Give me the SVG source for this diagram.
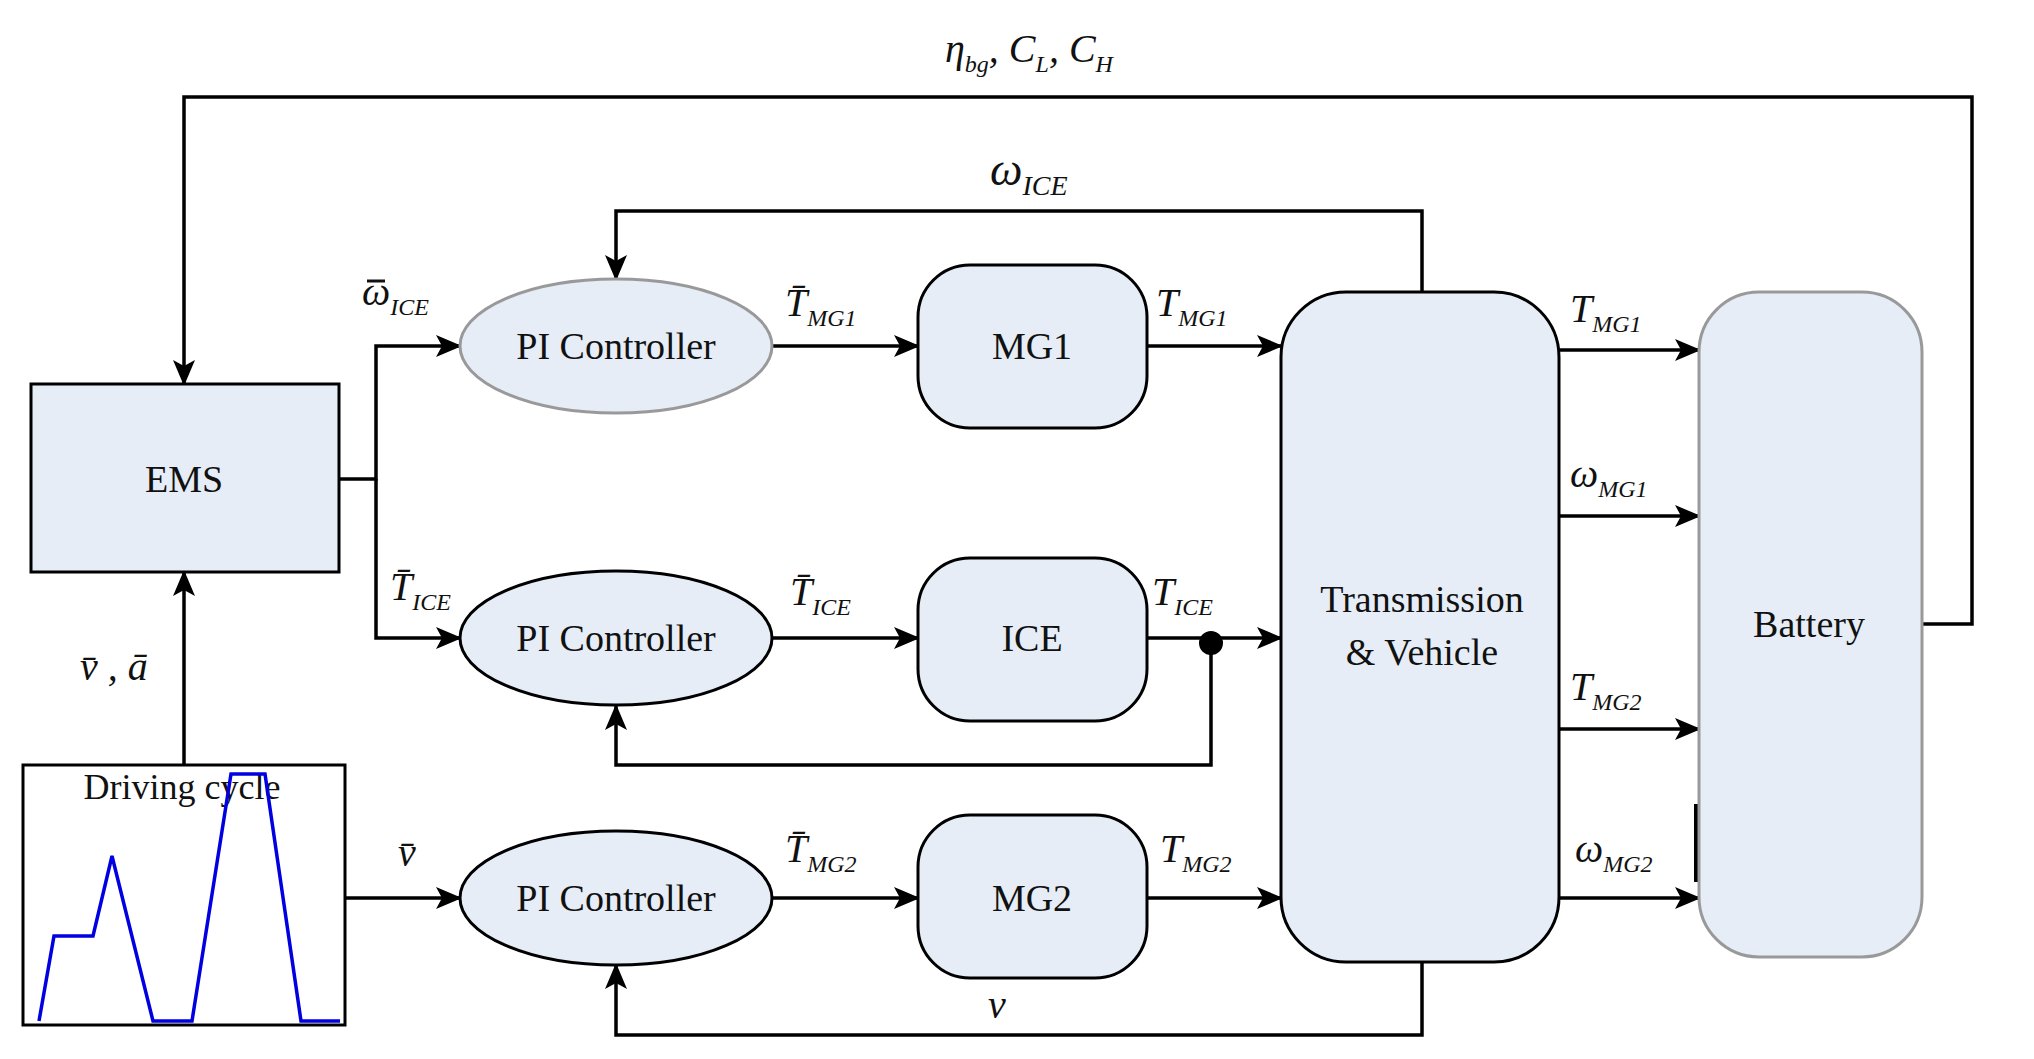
<svg xmlns="http://www.w3.org/2000/svg" width="2034" height="1059" viewBox="0 0 2034 1059">
<style>
.n{fill:#e6edf7;stroke:#000;stroke-width:3}
.g{stroke:#999}
.t{font-family:"Liberation Serif",serif;font-size:38px;text-anchor:middle;fill:#111}
.l{font-family:"Liberation Serif",serif;font-size:40px;font-style:italic;fill:#111}
.s{font-size:24px}
.c{fill:none;stroke:#000;stroke-width:3.5}
</style>
<defs>
<marker id="b" markerWidth="26" markerHeight="24" refX="24" refY="12" orient="auto" markerUnits="userSpaceOnUse"><path d="M0,1 L26,12 L0,23 L6,12 z" fill="#000"/></marker></defs>
<g id="connectors">
<path class="c" d="M1922,624 H1972 V97 H184 V384" marker-end="url(#b)"/>
<path class="c" d="M184,765 V572" marker-end="url(#b)"/>
<path class="c" d="M339,479 H376 V346 H460" marker-end="url(#b)"/>
<path class="c" d="M376,479 V638 H460" marker-end="url(#b)"/>
<path class="c" d="M345,898 H460" marker-end="url(#b)"/>
<path class="c" d="M772,346 H918" marker-end="url(#b)"/>
<path class="c" d="M772,638 H918" marker-end="url(#b)"/>
<path class="c" d="M772,898 H918" marker-end="url(#b)"/>
<path class="c" d="M1147,346 H1281" marker-end="url(#b)"/>
<path class="c" d="M1147,638 H1281" marker-end="url(#b)"/>
<path class="c" d="M1147,898 H1281" marker-end="url(#b)"/>
<path class="c" d="M1559,350 H1699" marker-end="url(#b)"/>
<path class="c" d="M1559,516 H1699" marker-end="url(#b)"/>
<path class="c" d="M1559,729 H1699" marker-end="url(#b)"/>
<path class="c" d="M1559,898 H1699" marker-end="url(#b)"/>
<path class="c" d="M1422,292 V211 H616 V279" marker-end="url(#b)"/>
<path class="c" d="M1211,638 V765 H616 V706" marker-end="url(#b)"/>
<path class="c" d="M1422,962 V1035 H616 V965" marker-end="url(#b)"/>
<circle cx="1211" cy="643" r="12"/>
<path d="M1697,804 V882" stroke="#000" stroke-width="6"/>
</g>
<g id="ems"><rect class="n" x="31" y="384" width="308" height="188"/><text class="t" x="184" y="492">EMS</text></g>
<g id="driving-cycle"><rect x="23" y="765" width="322" height="260" fill="#fff" stroke="#000" stroke-width="3"/><text class="t" x="182" y="799" style="font-size:36px">Driving cycle</text>
<polyline fill="none" stroke="#0000e0" stroke-width="3.5" points="39,1021 54,936 93,936 112,856 153,1021 192,1021 231,774 265,774 301,1021 340,1021"/></g>
<g id="pi1"><ellipse class="n g" cx="616" cy="346" rx="156" ry="67"/><text class="t" x="616" y="359">PI Controller</text></g>
<g id="pi2"><ellipse class="n" cx="616" cy="638" rx="156" ry="67"/><text class="t" x="616" y="651">PI Controller</text></g>
<g id="pi3"><ellipse class="n" cx="616" cy="898" rx="156" ry="67"/><text class="t" x="616" y="911">PI Controller</text></g>
<g id="mg1"><rect class="n" x="918" y="265" width="229" height="163" rx="52"/><text class="t" x="1032" y="359">MG1</text></g>
<g id="ice"><rect class="n" x="918" y="558" width="229" height="163" rx="52"/><text class="t" x="1032" y="651">ICE</text></g>
<g id="mg2"><rect class="n" x="918" y="815" width="229" height="163" rx="52"/><text class="t" x="1032" y="911">MG2</text></g>
<g id="transmission"><rect class="n" x="1281" y="292" width="278" height="670" rx="65"/><text class="t" x="1422" y="612">Transmission</text><text class="t" x="1422" y="665">&amp; Vehicle</text></g>
<g id="battery"><rect class="n g" x="1699" y="292" width="223" height="665" rx="60"/><text class="t" x="1809" y="637">Battery</text></g>
<g id="labels">
<text class="l" x="945" y="62">η<tspan class="s" dy="10">bg</tspan><tspan dy="-10">, C</tspan><tspan class="s" dy="10">L</tspan><tspan dy="-10">, C</tspan><tspan class="s" dy="10">H</tspan></text>
<text class="l" x="990" y="185" style="font-size:46px">ω<tspan class="s" dy="10" style="font-size:28px">ICE</tspan></text>
<text class="l" x="362" y="305">ω<tspan class="s" dy="10">ICE</tspan></text>
<path d="M367,281 H385" stroke="#111" stroke-width="3"/>
<text class="l" x="785" y="316">T̄<tspan class="s" dy="10">MG1</tspan></text>
<text class="l" x="1156" y="316">T<tspan class="s" dy="10">MG1</tspan></text>
<text class="l" x="390" y="600">T̄<tspan class="s" dy="10">ICE</tspan></text>
<text class="l" x="790" y="605">T̄<tspan class="s" dy="10">ICE</tspan></text>
<text class="l" x="1152" y="605">T<tspan class="s" dy="10">ICE</tspan></text>
<text class="l" x="398" y="866">v̄</text>
<text class="l" x="785" y="862">T̄<tspan class="s" dy="10">MG2</tspan></text>
<text class="l" x="1160" y="862">T<tspan class="s" dy="10">MG2</tspan></text>
<text class="l" x="988" y="1018">v</text>
<text class="l" x="80" y="680">v̄ , ā</text>
<text class="l" x="1570" y="322">T<tspan class="s" dy="10">MG1</tspan></text>
<text class="l" x="1570" y="487">ω<tspan class="s" dy="10">MG1</tspan></text>
<text class="l" x="1570" y="700">T<tspan class="s" dy="10">MG2</tspan></text>
<text class="l" x="1575" y="862">ω<tspan class="s" dy="10">MG2</tspan></text>
</g>
</svg>
